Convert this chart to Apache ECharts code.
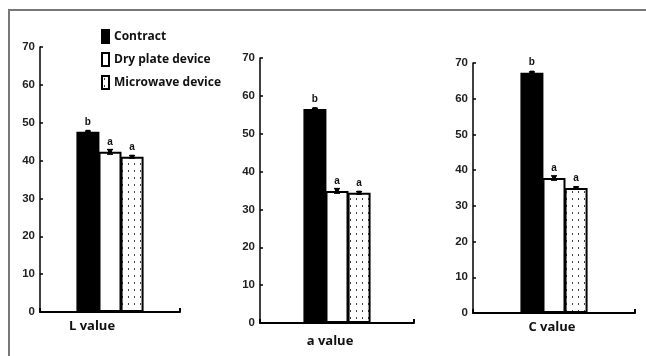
<!DOCTYPE html>
<html>
<head>
<meta charset="utf-8">
<script src="https://cdn.jsdelivr.net/npm/echarts@6/dist/echarts.min.js"></script>
<style>
  html, body { margin: 0; padding: 0; background: #fff; }
  #chart { width: 646px; height: 356px; }
</style>
</head>
<body>
<div id="chart"></div>
<script>
// Colour measurements, one panel per measured value
const categories = ['L value', 'a value', 'C value'];
const seriesNames = ['Contract', 'Dry plate device', 'Microwave device'];
const contract = [47.6, 56.5, 67.3];
const dryPlate = [42.3, 34.9, 37.8];
const microwave = [41.0, 34.4, 35.0];
const contractErr = [0.2, 0.2, 0.2];
const dryPlateErr = [0.6, 0.6, 0.6];
const microwaveErr = [0.3, 0.3, 0.3];
const contractLetters = ['b', 'b', 'b'];
const dryPlateLetters = ['a', 'a', 'a'];
const microwaveLetters = ['a', 'a', 'a'];
const yMin = 0, yMax = 70, yStep = 10;

// dotted fill for the microwave bars
function dotPattern() {
  const c = document.createElement('canvas');
  c.width = 6; c.height = 7;
  const ctx = c.getContext('2d');
  ctx.fillStyle = '#fff';
  ctx.fillRect(0, 0, 6, 7);
  ctx.fillStyle = '#444';
  ctx.fillRect(2, 2, 1, 2);
  return c;
}
const pattern = { image: dotPattern(), repeat: 'repeat' };

const grids = [
  { left: 40, width: 140, top: 47, height: 265 },
  { left: 260, width: 154, top: 58, height: 265 },
  { left: 473, width: 162, top: 63, height: 250 }
];
const labelPad = [[0, 36, 0, 0], [0, 14, 0, 0], [0, 4, 0, 0]];
const labelMargin = [8, 12, 8];
const barW = 23;

const chart = echarts.init(document.getElementById('chart'));

const xAxes = [], yAxes = [], series = [];
const groups = [
  { name: seriesNames[0], vals: contract, errs: contractErr, letters: contractLetters,
    style: { color: '#000', borderColor: '#000', borderWidth: 1.5 } },
  { name: seriesNames[1], vals: dryPlate, errs: dryPlateErr, letters: dryPlateLetters,
    style: { color: '#fff', borderColor: '#000', borderWidth: 2 } },
  { name: seriesNames[2], vals: microwave, errs: microwaveErr, letters: microwaveLetters,
    style: { color: pattern, borderColor: '#000', borderWidth: 2 } }
];

categories.forEach((cat, i) => {
  xAxes.push({
    type: 'category', gridIndex: i, data: [cat],
    axisLine: { lineStyle: { color: '#000', width: 2 } },
    axisTick: { show: true, inside: true, length: 4, lineStyle: { color: '#000', width: 2 } },
    axisLabel: {
      color: '#111', fontFamily: 'Open Sans', fontWeight: 700, fontSize: 13,
      margin: labelMargin[i], padding: labelPad[i]
    }
  });
  yAxes.push({
    type: 'value', gridIndex: i, min: yMin, max: yMax, interval: yStep,
    axisLine: { show: true, lineStyle: { color: '#000', width: 1.5 } },
    axisTick: { show: true, inside: true, length: 3, lineStyle: { color: '#000', width: 1.5 } },
    splitLine: { show: false },
    axisLabel: { color: '#222', fontFamily: 'Liberation Sans', fontWeight: 'bold', fontSize: 11.5, margin: 5 }
  });
  groups.forEach((g) => {
    series.push({
      type: 'bar', name: g.name, xAxisIndex: i, yAxisIndex: i,
      data: [g.vals[i]], barWidth: barW, barGap: '-4%',
      itemStyle: g.style,
      label: {
        show: true, position: 'top', distance: 5,
        formatter: () => g.letters[i],
        color: '#111', fontFamily: 'Liberation Sans', fontWeight: 'bold', fontSize: 10
      },
      z: 2
    });
  });
  // error bars drawn over each bar top
  series.push({
    type: 'custom', xAxisIndex: i, yAxisIndex: i, z: 5, silent: true,
    data: groups.map((g, k) => [k, g.vals[i], g.errs[i]]),
    renderItem: (params, api) => {
      const k = api.value(0), v = api.value(1), e = api.value(2);
      const base = api.coord([0, v]);
      const x = base[0] + (k - 1) * barW * 0.96;
      const hi = api.coord([0, v + e])[1];
      const lo = api.coord([0, v - e])[1];
      return {
        type: 'group',
        children: [
          { type: 'line', shape: { x1: x, y1: hi, x2: x, y2: lo }, style: { stroke: '#000', lineWidth: 1.5 } },
          { type: 'line', shape: { x1: x - 3, y1: hi, x2: x + 3, y2: hi }, style: { stroke: '#000', lineWidth: 1.5 } },
          { type: 'line', shape: { x1: x - 3, y1: lo, x2: x + 3, y2: lo }, style: { stroke: '#000', lineWidth: 1.5 } },
          { type: 'rect', shape: { x: x - 2, y: base[1] - 2, width: 4, height: 4 }, style: { fill: '#000' } }
        ]
      };
    },
    encode: { x: 0, y: 1 }
  });
});

chart.setOption({
  animation: false,
  backgroundColor: '#fff',
  grid: grids,
  xAxis: xAxes,
  yAxis: yAxes,
  legend: {
    data: seriesNames, orient: 'vertical', left: 96, top: 24,
    itemWidth: 7, itemHeight: 13, itemGap: 8, icon: 'rect',
    textStyle: { color: '#111', fontFamily: 'Open Sans', fontWeight: 700, fontSize: 12 }
  },
  graphic: [{
    type: 'rect', silent: true, z: -1,
    shape: { x: 9, y: 10, width: 700, height: 400 },
    style: { fill: 'none', stroke: '#777', lineWidth: 2 }
  }],
  series: series
});
</script>
</body>
</html>
